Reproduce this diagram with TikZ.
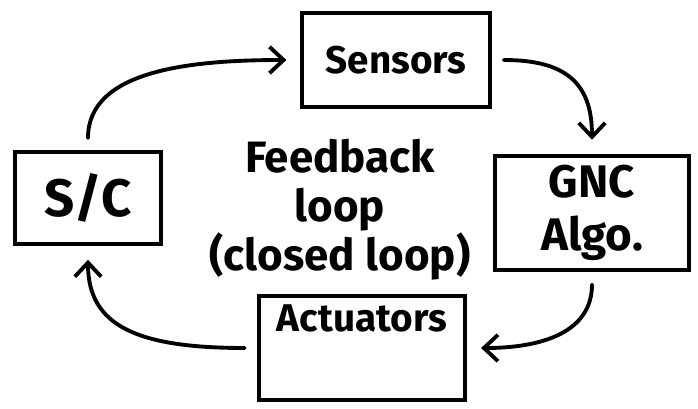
\documentclass[tikz,border=0pt]{standalone}
\usepackage{fontspec}
\setmainfont{Fira Sans}
\usetikzlibrary{arrows.meta}

\tikzset{
  blok/.style={draw, line width=2.2pt, line cap=round, align=center,
    font=\fontsize{22}{28}\selectfont\bfseries},
  sipka/.style={->, line width=2.2pt, line cap=round, shorten <=7pt, shorten >=8pt}
}

\begin{document}
\begin{tikzpicture}[x=0.02cm, y=-0.02cm, >={Straight Barb[length=8pt,width=15pt]}]
\useasboundingbox (0,0) rectangle (698,409);

% Bloky smycky
\node[blok, minimum width=188*0.567pt, minimum height=95*0.567pt] (sensors) at (396,60) {Sensors};
\node[blok, minimum width=147*0.567pt, minimum height=92*0.567pt, font=\fontsize{30}{34}\selectfont\bfseries] (sc) at (88,198) {S/C};
\node[blok, minimum width=195*0.567pt, minimum height=115*0.567pt, font=\fontsize{26}{30}\selectfont\bfseries] (gnc) at (592,213) {GNC\\Algo.};
\node[blok, minimum width=207*0.567pt, minimum height=105*0.567pt, text depth=34pt] (act) at (362,348) {Actuators};

% Popisek uprostred
\node[align=center, font=\fontsize{25}{28}\selectfont\bfseries] (popis) at (340,210) {Feedback\\loop\\(closed loop)};

% Sipky
\draw[sipka] (sc.north) .. controls +(0,-80) and +(-110,0) .. (sensors.west);
\draw[sipka] (sensors.east) .. controls +(75,0) and +(0,-70) .. (gnc.north);
\draw[sipka] (gnc.south) .. controls +(0,60) and +(75,0) .. (act.east);
\draw[sipka] (act.west) .. controls +(-120,0) and +(0,80) .. (sc.south);
\end{tikzpicture}
\end{document}
